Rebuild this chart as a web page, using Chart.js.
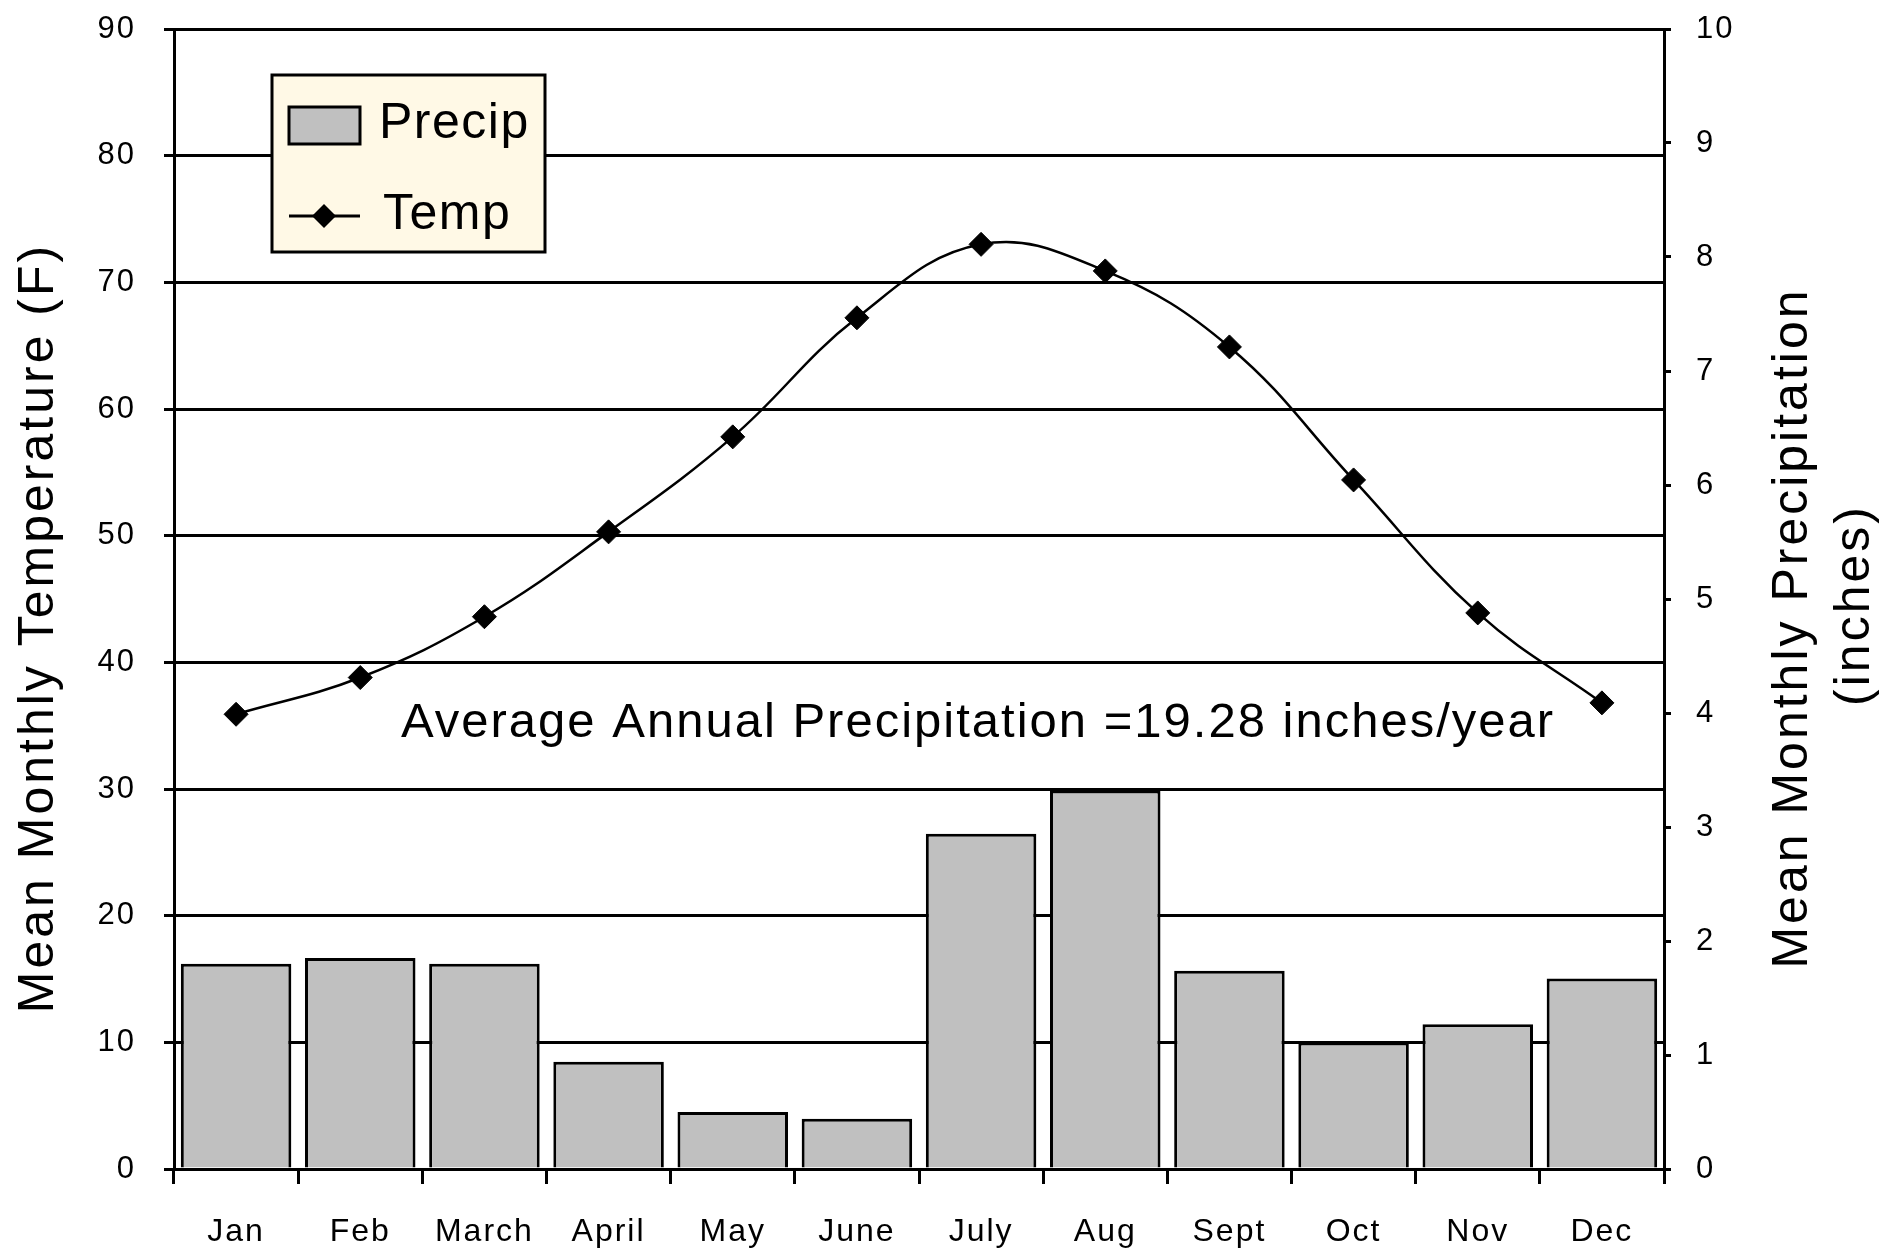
<!DOCTYPE html>
<html>
<head>
<meta charset="utf-8">
<title>Mean Monthly Temperature and Precipitation</title>
<script src="https://cdn.jsdelivr.net/npm/chart.js@4.4.1/dist/chart.umd.min.js"></script>
<style>
  html, body { margin: 0; padding: 0; background: #fff; }
  canvas { display: block; }
</style>
</head>
<body>
<canvas id="climate-chart" width="1889" height="1249"></canvas>
<script>
const months = ["Jan", "Feb", "March", "April", "May", "June", "July", "Aug", "Sept", "Oct", "Nov", "Dec"];
const precipInches = [1.80, 1.85, 1.80, 0.94, 0.50, 0.44, 2.94, 3.32, 1.74, 1.11, 1.27, 1.67];
const tempF = [35.9, 38.8, 43.6, 50.3, 57.8, 67.2, 73.0, 70.9, 64.9, 54.4, 43.9, 36.8];
const tempTicks = [0, 10, 20, 30, 40, 50, 60, 70, 80, 90];
const precipTicks = [0, 1, 2, 3, 4, 5, 6, 7, 8, 9, 10];
const leftTitle = "Mean Monthly Temperature (F)";
const rightTitle = ["Mean Monthly Precipitation", "(inches)"];
const note = "Average Annual Precipitation =19.28 inches/year";

const FONT = "'Liberation Sans', Arial, sans-serif";
const BAR_GREY = "#C0C0C0";

// fixed axis sizes, and no extra label padding above/below the plot
function fixWidth(w) {
  return (scale) => {
    scale.width = w;
    scale.paddingTop = 0;
    scale.paddingBottom = 0;
  };
}

// titles, note and the boxed legend are drawn by hand
const extras = {
  id: "extras",
  beforeDraw(chart) {
    chart.ctx.letterSpacing = "2px";
  },
  afterDraw(chart) {
    const ctx = chart.ctx;
    const area = chart.chartArea;
    ctx.save();
    ctx.fillStyle = "#000";
    ctx.textAlign = "center";
    ctx.textBaseline = "alphabetic";
    ctx.font = "50px " + FONT;
    ctx.letterSpacing = "3px";

    // left axis title, reads bottom to top
    ctx.save();
    ctx.translate(53, 628);
    ctx.rotate(-Math.PI / 2);
    ctx.fillText(leftTitle, 0, 0);
    ctx.restore();

    // right axis title, two lines
    ctx.save();
    ctx.translate(1807, 628);
    ctx.rotate(-Math.PI / 2);
    ctx.fillText(rightTitle[0], 0, 0);
    ctx.restore();
    ctx.save();
    ctx.translate(1869, 605);
    ctx.rotate(-Math.PI / 2);
    ctx.fillText(rightTitle[1], 0, 0);
    ctx.restore();

    // annotation
    ctx.font = "49px " + FONT;
    ctx.letterSpacing = "2px";
    ctx.textAlign = "left";
    ctx.fillText(note, area.left + 227, area.top + 708);

    // legend box
    const bx = area.left + 98, by = area.top + 46;
    ctx.fillStyle = "#FFF9E6";
    ctx.fillRect(bx, by, 273, 177);
    ctx.lineWidth = 3;
    ctx.strokeStyle = "#000";
    ctx.strokeRect(bx, by, 273, 177);

    ctx.fillStyle = BAR_GREY;
    ctx.fillRect(bx + 17, by + 32, 71, 37);
    ctx.strokeRect(bx + 17, by + 32, 71, 37);

    ctx.beginPath();
    ctx.moveTo(bx + 17, by + 141);
    ctx.lineTo(bx + 88, by + 141);
    ctx.lineWidth = 3;
    ctx.stroke();
    ctx.beginPath();
    ctx.moveTo(bx + 52, by + 129);
    ctx.lineTo(bx + 64, by + 141);
    ctx.lineTo(bx + 52, by + 153);
    ctx.lineTo(bx + 40, by + 141);
    ctx.closePath();
    ctx.fillStyle = "#000";
    ctx.fill();

    ctx.font = "50px " + FONT;
    ctx.letterSpacing = "1.5px";
    ctx.fillText("Precip", bx + 107, by + 63);
    ctx.fillText("Temp", bx + 111, by + 154);
    ctx.restore();
  }
};

const ctx = document.getElementById("climate-chart").getContext("2d");
const chart = new Chart(ctx, {
  data: {
    labels: months,
    datasets: [
      {
        type: "line",
        label: "Temp",
        data: tempF,
        yAxisID: "y",
        order: 0,
        borderColor: "#000",
        borderWidth: 2.5,
        tension: 0.4,
        pointStyle: "rectRot",
        pointRadius: 12,
        pointBackgroundColor: "#000",
        pointBorderColor: "#000",
        pointBorderWidth: 1,
        fill: false,
      },
      {
        type: "bar",
        label: "Precip",
        data: precipInches,
        yAxisID: "y1",
        order: 1,
        backgroundColor: BAR_GREY,
        borderColor: "#000",
        borderWidth: 3,
        barPercentage: 0.89,
        categoryPercentage: 1.0,
      },
    ],
  },
  options: {
    responsive: false,
    animation: false,
    layout: { padding: { top: 29, left: 0, right: 0, bottom: 0 } },
    plugins: {
      legend: { display: false },
      tooltip: { enabled: false },
    },
    scales: {
      x: {
        offset: true,
        grid: {
          offset: true,
          drawOnChartArea: false,
          color: "#000",
          lineWidth: 3,
          tickLength: 15,
        },
        border: { display: true, color: "#000", width: 3 },
        ticks: {
          color: "#000",
          font: { family: FONT, size: 32 },
          padding: 29,
          maxRotation: 0,
        },
        afterFit: (scale) => {
          scale.height = 80;
          scale.paddingLeft = 0;
          scale.paddingRight = 0;
        },
      },
      y: {
        position: "left",
        min: tempTicks[0],
        max: tempTicks[tempTicks.length - 1],
        afterBuildTicks: (scale) => { scale.ticks = tempTicks.map((v) => ({ value: v })); },
        grid: { color: "#000", lineWidth: 3, tickLength: 10 },
        border: { display: true, color: "#000", width: 3 },
        ticks: {
          color: "#000",
          font: { family: FONT, size: 31 },
          padding: 28,
        },
        afterFit: fixWidth(174),
      },
      y1: {
        position: "right",
        min: precipTicks[0],
        max: precipTicks[precipTicks.length - 1],
        afterBuildTicks: (scale) => { scale.ticks = precipTicks.map((v) => ({ value: v })); },
        grid: { drawOnChartArea: false, color: "#000", lineWidth: 3, tickLength: 7 },
        border: { display: true, color: "#000", width: 3 },
        ticks: {
          color: "#000",
          font: { family: FONT, size: 31 },
          padding: 25,
        },
        afterFit: fixWidth(225),
      },
    },
  },
  plugins: [extras],
});
</script>
</body>
</html>
